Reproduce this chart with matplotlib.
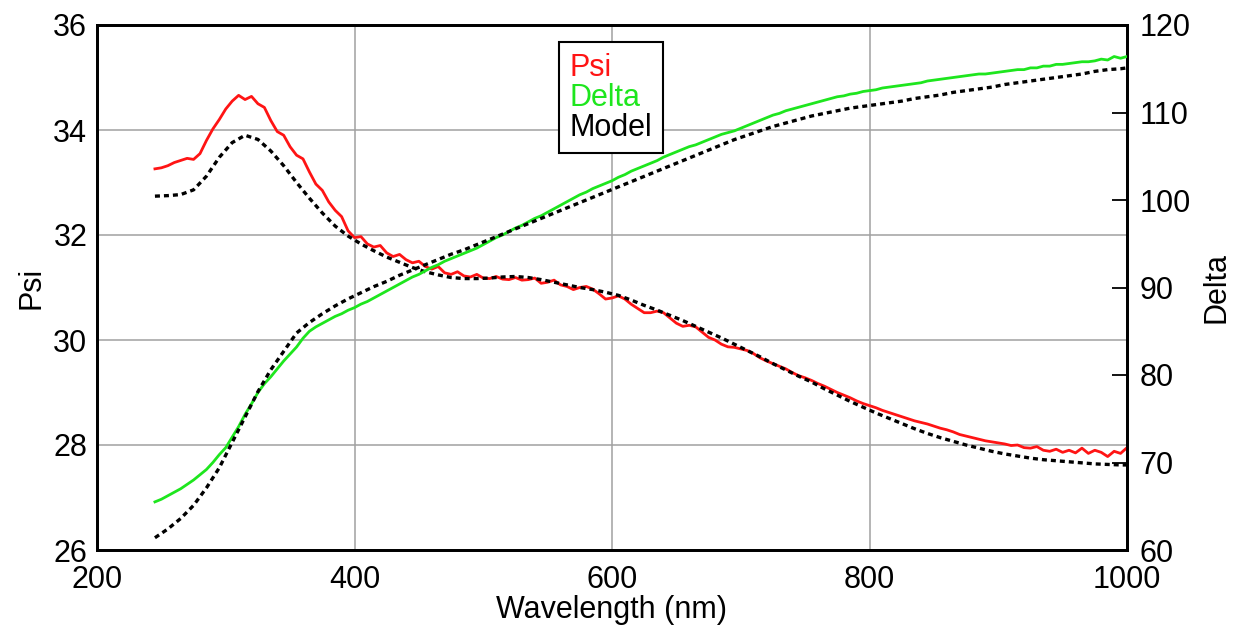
import numpy as np
import matplotlib.pyplot as plt
from matplotlib.lines import Line2D

plt.rcParams['font.family'] = ['Liberation Sans', 'DejaVu Sans']

# measured spectrum, 5 nm steps from 245 to 1000 nm
wavelength = np.arange(245, 1001, 5)

psi_measured = [
    33.26, 33.28, 33.32, 33.38, 33.42, 33.46, 33.44, 33.55, 33.80, 34.02,
    34.20, 34.40, 34.55, 34.66, 34.58, 34.64, 34.50, 34.43, 34.18, 33.97,
    33.90, 33.68, 33.52, 33.45, 33.20, 32.97, 32.85, 32.63, 32.47, 32.35,
    32.08, 31.95, 31.97, 31.83, 31.77, 31.80, 31.66, 31.59, 31.63, 31.53,
    31.47, 31.50, 31.40, 31.35, 31.40, 31.28, 31.25, 31.30, 31.22, 31.20,
    31.25, 31.18, 31.17, 31.21, 31.16, 31.15, 31.19, 31.14, 31.15, 31.18,
    31.08, 31.10, 31.14, 31.05, 31.02, 30.96, 31.00, 31.02, 30.97, 30.88,
    30.78, 30.80, 30.84, 30.78, 30.68, 30.60, 30.52, 30.52, 30.55, 30.52,
    30.42, 30.32, 30.26, 30.28, 30.25, 30.15, 30.05, 30.00, 29.92, 29.87,
    29.86, 29.83, 29.80, 29.74, 29.66, 29.60, 29.55, 29.50, 29.45, 29.38,
    29.32, 29.28, 29.23, 29.17, 29.12, 29.06, 29.00, 28.95, 28.90, 28.84,
    28.79, 28.75, 28.71, 28.66, 28.62, 28.58, 28.54, 28.50, 28.46, 28.43,
    28.40, 28.36, 28.32, 28.29, 28.25, 28.20, 28.17, 28.14, 28.11, 28.08,
    28.06, 28.04, 28.02, 27.99, 28.00, 27.95, 27.94, 27.97, 27.90, 27.88,
    27.92, 27.86, 27.90, 27.85, 27.94, 27.84, 27.90, 27.86, 27.78, 27.88,
    27.84, 27.95,
]

delta_measured = [
    65.5, 65.8, 66.2, 66.6, 67.0, 67.5, 68.0, 68.6, 69.2, 70.0,
    70.9, 71.7, 72.9, 74.1, 75.5, 76.7, 78.0, 79.0, 79.8, 80.7,
    81.6, 82.4, 83.2, 84.2, 85.0, 85.5, 85.9, 86.3, 86.7, 87.0,
    87.4, 87.7, 88.1, 88.4, 88.8, 89.2, 89.6, 90.0, 90.4, 90.8,
    91.2, 91.5, 91.9, 92.3, 92.6, 93.0, 93.3, 93.6, 93.9, 94.2,
    94.5, 94.9, 95.3, 95.7, 96.0, 96.4, 96.8, 97.1, 97.5, 97.9,
    98.2, 98.6, 99.0, 99.4, 99.8, 100.2, 100.6, 100.9, 101.3, 101.6,
    101.9, 102.2, 102.6, 102.9, 103.3, 103.6, 103.9, 104.2, 104.5, 104.9,
    105.2, 105.5, 105.8, 106.1, 106.3, 106.6, 106.9, 107.2, 107.5, 107.7,
    107.9, 108.2, 108.5, 108.8, 109.1, 109.4, 109.7, 109.9, 110.2, 110.4,
    110.6, 110.8, 111.0, 111.2, 111.4, 111.6, 111.8, 111.9, 112.1, 112.2,
    112.4, 112.5, 112.6, 112.8, 112.9, 113.0, 113.1, 113.2, 113.3, 113.4,
    113.6, 113.7, 113.8, 113.9, 114.0, 114.1, 114.2, 114.3, 114.4, 114.4,
    114.5, 114.6, 114.7, 114.8, 114.9, 114.9, 115.1, 115.1, 115.3, 115.3,
    115.5, 115.5, 115.6, 115.7, 115.8, 115.8, 115.9, 116.1, 116.0, 116.4,
    116.2, 116.4,
]

# fitted model, 10 nm steps
model_wavelength = np.append(np.arange(245, 1000, 10), 1000)

psi_model = [
    32.74, 32.75, 32.77, 32.86, 33.12, 33.48, 33.76, 33.90, 33.82, 33.60,
    33.32, 33.00, 32.70, 32.42, 32.17, 31.98, 31.83, 31.70, 31.58, 31.48,
    31.38, 31.30, 31.24, 31.19, 31.17, 31.17, 31.18, 31.20, 31.21, 31.19,
    31.15, 31.10, 31.05, 31.00, 30.96, 30.91, 30.85, 30.76, 30.66, 30.57,
    30.47, 30.37, 30.26, 30.15, 30.04, 29.92, 29.80, 29.68, 29.55, 29.43,
    29.31, 29.20, 29.07, 28.95, 28.83, 28.72, 28.61, 28.51, 28.41, 28.31,
    28.22, 28.14, 28.07, 28.00, 27.94, 27.88, 27.83, 27.79, 27.75, 27.72,
    27.70, 27.68, 27.66, 27.64, 27.63, 27.62,
    27.62,
]

delta_model = [
    61.4, 62.4, 63.6, 65.1, 67.1, 69.4, 72.3, 75.2, 78.1, 80.6,
    82.7, 84.8, 86.0, 87.0, 87.9, 88.7, 89.4, 90.1, 90.7, 91.4,
    92.0, 92.6, 93.2, 93.8, 94.3, 94.9, 95.5, 96.1, 96.7, 97.3,
    97.9, 98.5, 99.1, 99.7, 100.3, 100.9, 101.5, 102.1, 102.7, 103.3,
    103.9, 104.5, 105.1, 105.7, 106.3, 106.9, 107.4, 107.9, 108.4, 108.8,
    109.2, 109.6, 109.9, 110.2, 110.5, 110.7, 110.9, 111.1, 111.3, 111.6,
    111.8, 112.0, 112.3, 112.5, 112.7, 112.9, 113.2, 113.4, 113.6, 113.8,
    114.0, 114.2, 114.4, 114.7, 114.9, 115.0,
    115.1,
]

series_names = ['Psi', 'Delta', 'Model']
series_colors = ['#ff1414', '#1ee61e', 'black']

FS = 22
dots = (0, (1.5, 1.2))

fig = plt.figure(figsize=(12.37, 6.32), dpi=100)
ax = fig.add_axes([97 / 1237, 1 - 550 / 632, 1030 / 1237, 525 / 632])
ax2 = ax.twinx()

ax.plot(wavelength, psi_measured, color=series_colors[0], lw=2.0, zorder=3)
ax.plot(model_wavelength, psi_model, color='black', lw=2.4, ls=dots, zorder=4)
ax2.plot(wavelength, delta_measured, color=series_colors[1], lw=2.0, zorder=3)
ax2.plot(model_wavelength, delta_model, color='black', lw=2.4, ls=dots, zorder=4)

ax.set_xlim(200, 1000)
ax.set_ylim(26, 36)
ax2.set_ylim(60, 120)
ax.set_xticks([200, 400, 600, 800, 1000])
ax.set_yticks(range(26, 37, 2))
ax2.set_yticks(range(60, 121, 10))

ax.set_axisbelow(True)
ax.grid(True, color='#a0a0a0', lw=1.1)

ax.tick_params(axis='y', length=0, labelsize=FS, pad=7)
ax.tick_params(axis='x', length=0, labelsize=FS, pad=11)
ax2.tick_params(axis='y', direction='in', length=11, width=1.3,
                labelsize=FS, pad=9)
for a in (ax, ax2):
    for s in a.spines.values():
        s.set_linewidth(2.0)
        s.set_color('black')

ax.set_xlabel('Wavelength (nm)', fontsize=FS, labelpad=0)
ax.set_ylabel('Psi', fontsize=FS, labelpad=5)
ax2.set_ylabel('Delta', fontsize=FS, labelpad=8)

# legend: coloured names only, no line samples
handles = [Line2D([], [], color=c) for c in series_colors]
leg = ax2.legend(handles, series_names, loc='upper left',
                 bbox_to_anchor=(0.4485, 0.9676), borderaxespad=0,
                 handlelength=0, handletextpad=0, labelcolor='linecolor',
                 fancybox=False, edgecolor='black', framealpha=1,
                 fontsize=FS, labelspacing=0.0, borderpad=0.35)
leg.get_frame().set_linewidth(1.5)
for h in leg.legend_handles:
    h.set_visible(False)

fig.savefig('out.png', dpi=100)
